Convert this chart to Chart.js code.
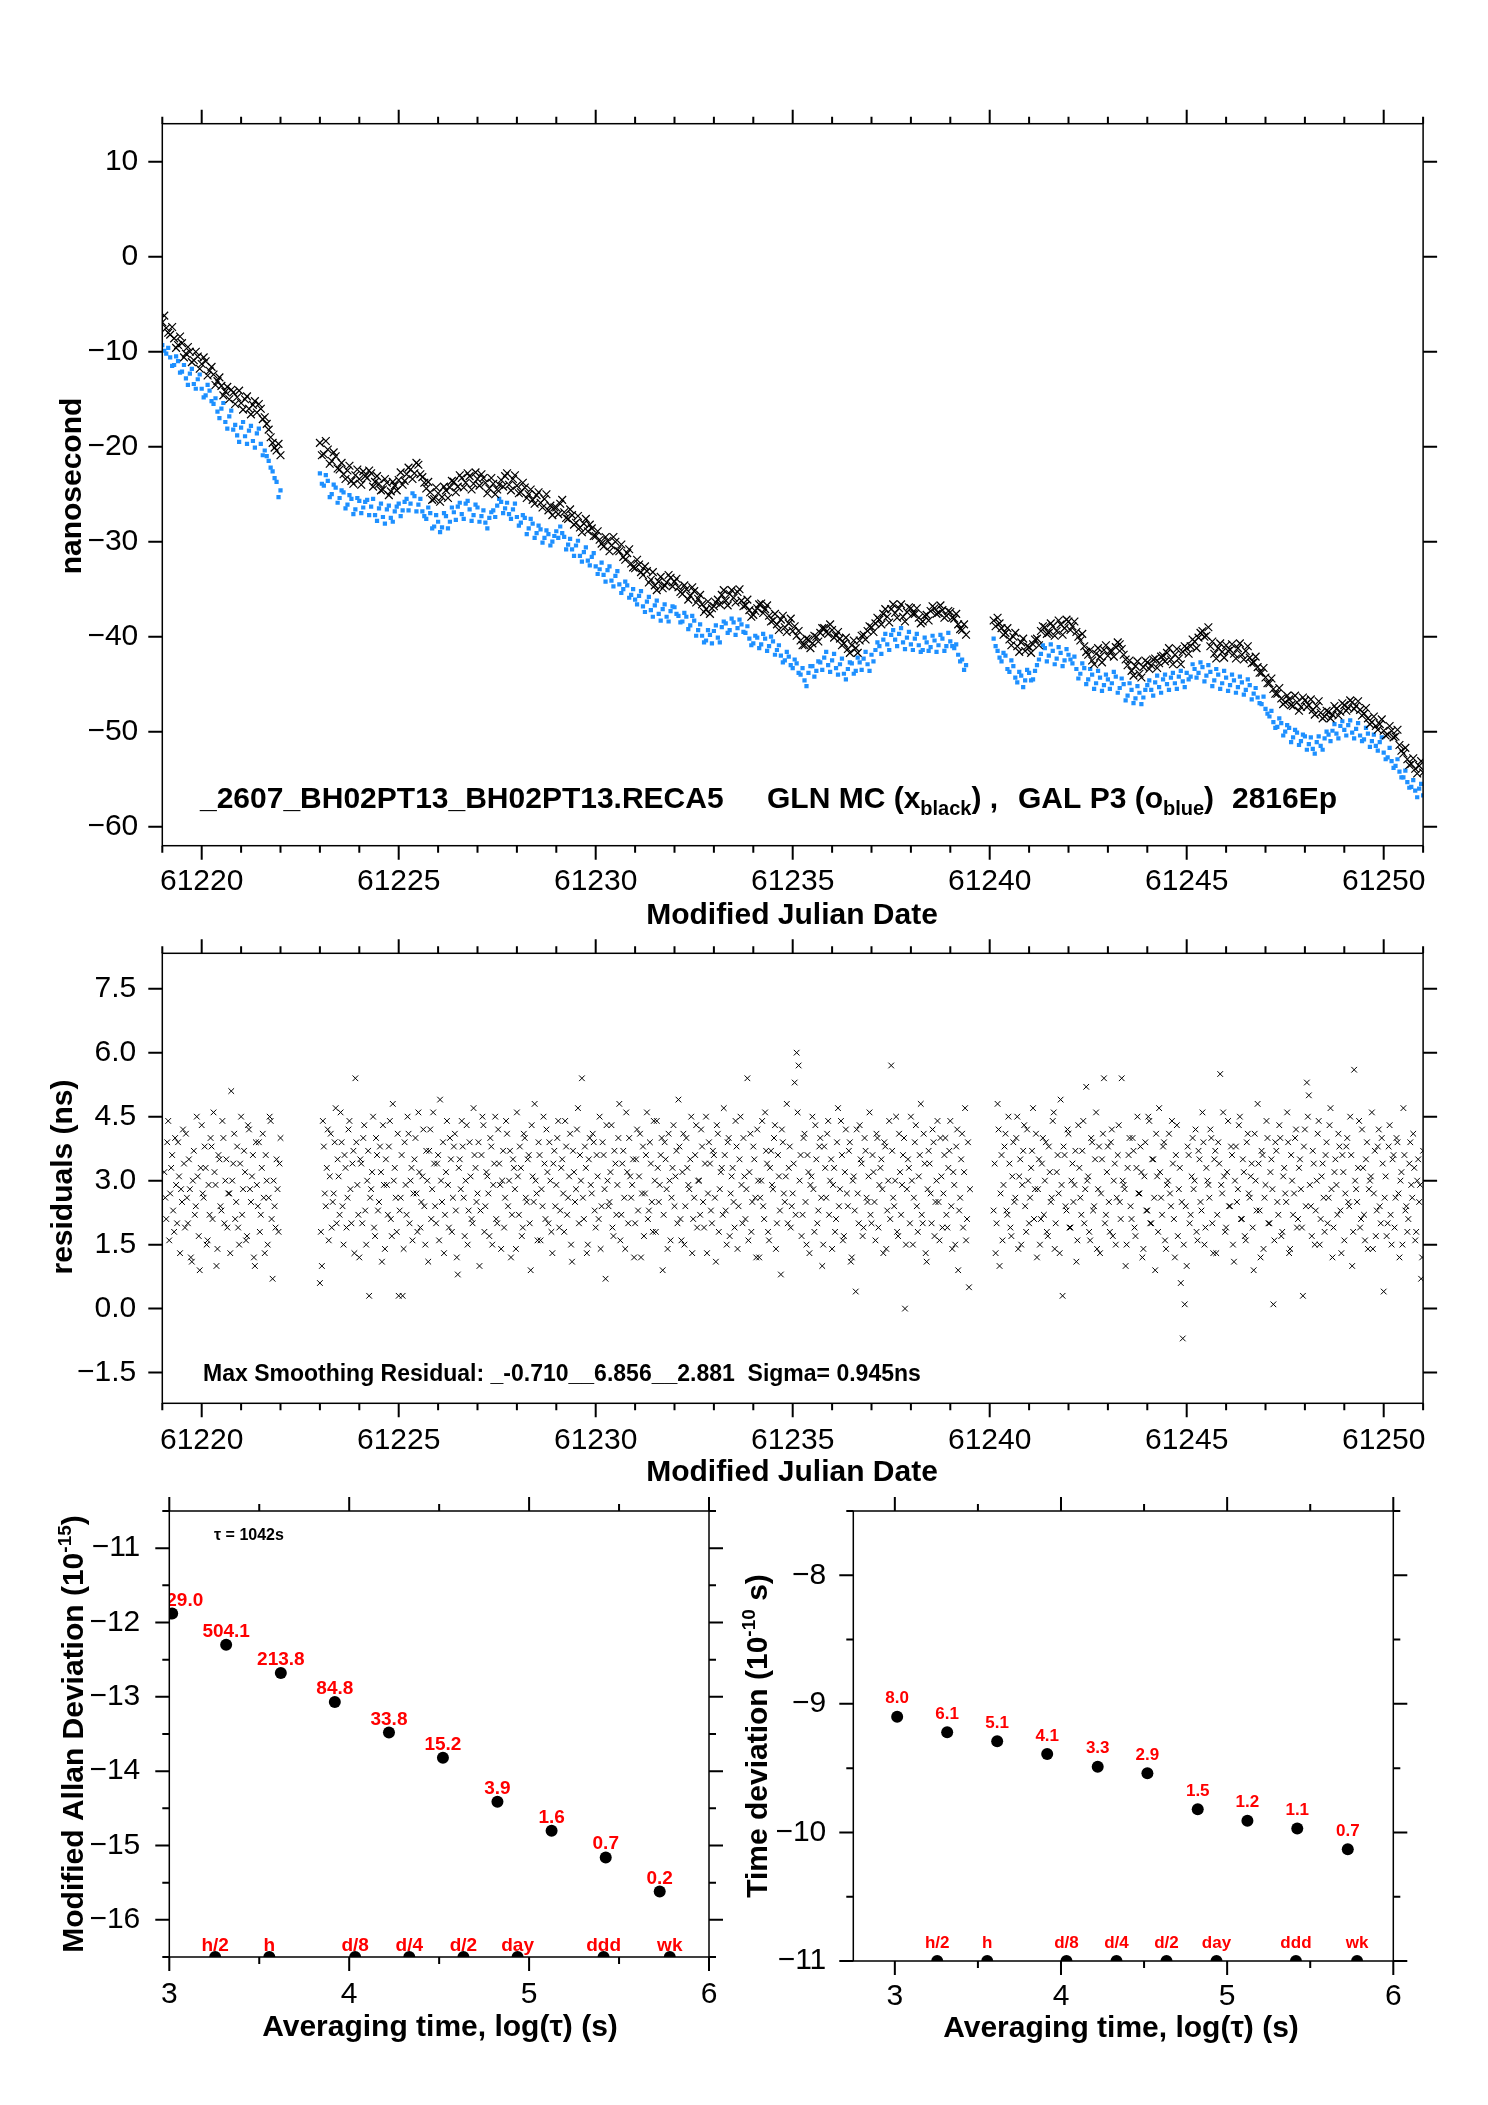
<!DOCTYPE html>
<html>
<head>
<meta charset="utf-8">
<script src="https://cdn.jsdelivr.net/npm/chart.js@4.4.1/dist/chart.umd.min.js"></script>
<style>
  html, body { margin: 0; padding: 0; background: #fff; }
  #page { position: relative; width: 1488px; height: 2105px; background: #fff; }
  canvas { position: absolute; left: 0; top: 0; }
</style>
</head>
<body>
<div id="page">
  <canvas id="phase" width="1488" height="2105"></canvas>
  <canvas id="resid" width="1488" height="2105"></canvas>
  <canvas id="mdev" width="1488" height="2105"></canvas>
  <canvas id="tdev" width="1488" height="2105"></canvas>
</div>
<script>
// ---- phase data (ns), one value every 0.1 day, three segments ----
const phaseStarts = [61219.0, 61223.0, 61240.1];
const phaseStep = 0.1;

// GLN MC (black x)
const glnSeg1 = [-6.9, -7.5, -8.2, -8.6, -9.3, -9.1, -10.2, -10.0, -10.9, -10.5,
  -11.3, -11.0, -12.0, -12.4, -13.1, -13.6, -14.2, -15.0, -14.3, -14.8,
  -15.4, -15.0, -16.0, -15.6, -16.4, -16.0, -16.9, -18.2, -19.6, -20.4, -20.9];
const glnSeg2 = [-19.6, -20.8, -20.3, -21.5, -21.0, -22.4, -22.9, -22.5, -23.6, -23.0,
  -23.4, -22.6, -23.3, -22.8, -23.7, -23.9, -24.5, -23.8, -24.7, -24.1,
  -23.5, -24.0, -22.9, -22.4, -22.8, -21.9, -23.2, -24.4, -24.8, -25.5,
  -24.9, -25.3, -24.6, -24.3, -23.7, -24.2, -23.3, -23.8, -23.1, -23.9,
  -23.4, -22.9, -23.8, -24.4, -23.9, -24.5, -23.5, -23.1, -24.0, -23.4,
  -24.1, -24.8, -24.3, -25.0, -25.6, -25.1, -25.9, -25.5, -26.7, -27.2,
  -26.4, -26.0, -26.9, -27.6, -27.2, -28.0, -28.5, -28.1, -28.9, -28.6,
  -29.4, -29.8, -30.5, -29.9, -30.4, -30.0, -31.0, -31.6, -31.2, -32.3,
  -32.8, -32.4, -33.5, -33.1, -34.0, -34.6, -34.2, -34.9, -34.3, -33.8,
  -34.2, -34.8, -35.5, -35.0, -35.7, -35.2, -36.0, -36.6, -37.1, -37.6,
  -36.8, -36.1, -35.6, -36.2, -35.5, -35.9, -35.3, -36.2, -36.7, -37.2,
  -37.7, -37.0, -36.5, -37.1, -37.8, -38.3, -38.7, -38.2, -39.0, -38.6,
  -39.4, -39.9, -40.4, -40.9, -40.3, -40.7, -40.0, -39.6, -39.1, -39.7,
  -39.3, -39.9, -40.2, -40.7, -41.3, -40.9, -41.2, -40.4, -39.8, -39.4,
  -39.0, -38.6, -38.2, -37.6, -37.9, -37.1, -37.5, -37.0, -37.9, -37.4,
  -37.0, -37.6, -38.0, -38.4, -37.7, -37.3, -37.0, -37.5, -37.2, -37.8,
  -37.4, -38.1, -38.7, -39.3, -39.8];
const glnSeg3 = [-38.3, -38.0, -39.1, -39.6, -40.3, -40.0, -41.0, -40.6, -41.5,
  -41.1, -40.8, -40.2, -39.4, -39.0, -39.6, -38.9, -39.4, -38.7, -39.1,
  -38.4, -38.9, -39.5, -40.4, -41.0, -41.9, -42.5, -41.8, -42.1, -41.4,
  -42.0, -41.5, -41.1, -40.8, -41.9, -43.0, -43.6, -43.1, -43.9, -43.2,
  -42.7, -43.0, -42.3, -42.8, -42.0, -41.7, -42.4, -41.9, -42.3, -41.6,
  -41.2, -41.0, -40.5, -40.1, -39.4, -39.9, -41.0, -41.8, -41.2, -41.6,
  -40.9, -41.4, -41.8, -41.2, -41.9, -41.5, -42.2, -42.7, -43.2, -43.8,
  -44.3, -44.9, -45.5, -46.0, -46.5, -46.9, -46.6, -47.3, -46.9, -47.4,
  -46.7, -47.2, -47.7, -47.3, -48.0, -48.4, -47.9, -48.2, -47.6, -47.9,
  -47.2, -47.5, -46.9, -47.3, -47.7, -48.1, -48.6, -49.0, -49.4, -49.2,
  -49.9, -50.3, -49.9, -50.5, -51.4, -52.3, -52.9, -53.4, -53.9, -53.6,
  -54.3];

// GAL P3 (blue)
const galSeg1 = [-9.3, -10.2, -10.6, -11.4, -11.0, -12.1, -12.8, -12.3, -13.4, -12.9,
  -13.9, -14.6, -14.1, -15.5, -16.3, -16.0, -17.4, -16.8, -18.2, -18.8,
  -18.0, -18.9, -18.3, -19.4, -18.6, -19.7, -20.4, -21.5, -22.6, -23.7, -24.6];
const galSeg2 = [-22.8, -24.1, -23.6, -25.0, -24.3, -25.4, -24.8, -26.1, -25.5, -26.6,
  -25.7, -26.4, -25.6, -26.3, -27.2, -26.5, -27.4, -26.6, -27.5, -26.8,
  -26.0, -26.7, -25.5, -26.0, -25.2, -26.1, -26.8, -27.6, -27.0, -28.4,
  -27.9, -28.5, -27.3, -27.9, -26.9, -26.3, -27.1, -26.0, -26.6, -27.2,
  -26.4, -27.3, -28.0, -27.5, -26.7, -26.2, -25.8, -26.5, -27.1, -26.6,
  -27.4, -28.0, -27.5, -28.6, -28.1, -29.1, -28.7, -29.6, -29.2, -30.0,
  -28.9, -28.4, -29.5, -30.3, -30.8, -30.4, -31.5, -31.1, -32.0, -31.6,
  -32.6, -32.9, -33.5, -33.0, -34.1, -33.6, -34.5, -35.0, -34.6, -35.6,
  -36.1, -35.7, -36.8, -36.3, -37.2, -36.7, -37.6, -37.1, -37.9, -37.3,
  -36.9, -37.8, -38.4, -37.9, -38.8, -38.3, -39.3, -39.9, -40.4, -39.8,
  -39.4, -40.1, -39.0, -38.6, -39.3, -38.5, -39.1, -38.7, -39.6, -40.2,
  -40.7, -40.1, -40.8, -40.2, -41.0, -40.5, -41.4, -42.0, -42.5, -42.1,
  -43.3, -42.8, -44.0, -44.6, -43.8, -43.1, -43.6, -42.7, -42.2, -43.0,
  -42.5, -43.3, -42.9, -43.9, -43.4, -42.8, -43.6, -42.7, -42.3, -42.9,
  -41.9, -41.4, -41.0, -40.3, -40.8, -39.8, -40.3, -39.7, -40.6, -40.1,
  -40.8, -40.2, -40.9, -41.4, -40.6, -41.1, -40.4, -40.9, -40.2, -41.0,
  -40.5, -41.2, -41.9, -42.4, -43.0];
const galSeg3 = [-40.2, -41.5, -42.6, -42.0, -43.7, -43.1, -44.8, -44.1, -44.6,
  -43.8, -44.5, -43.0, -41.8, -41.2, -42.0, -41.5, -42.3, -41.7, -42.5,
  -41.9, -42.8, -43.4, -43.9, -43.3, -44.5, -44.0, -44.9, -44.3, -45.1,
  -44.5, -44.9, -44.2, -45.4, -45.0, -46.2, -45.6, -46.5, -45.9, -46.4,
  -45.1, -45.6, -44.8, -45.3, -44.5, -45.0, -44.3, -44.9, -44.2, -44.7,
  -43.8, -44.2, -43.4, -43.8, -43.2, -44.1, -43.7, -44.6, -44.0, -44.9,
  -44.3, -45.1, -44.6, -45.3, -44.8, -45.6, -45.1, -46.0, -46.4, -47.1,
  -47.6, -48.4, -49.0, -49.5, -49.1, -50.0, -49.6, -50.6, -50.1, -51.0,
  -50.5, -51.3, -51.8, -51.1, -51.5, -50.7, -50.3, -49.9, -50.2, -49.4,
  -49.8, -49.3, -50.1, -49.7, -50.4, -50.8, -50.2, -51.0, -51.5, -51.1,
  -52.2, -52.7, -53.1, -53.6, -54.2, -54.8, -55.3, -55.8, -56.2, -56.0,
  -56.7];

// second pass of epochs, half a step later (61219.05, 61223.05, 61240.15 ...)
const phaseStartsB = [61219.05, 61223.05, 61240.15];
const glnSeg1b = [-6.2, -8.0, -7.4, -9.6, -8.4, -10.6, -9.5, -11.1, -10.0, -11.8,
  -10.6, -12.5, -11.6, -13.5, -12.7, -14.6, -13.7, -14.0, -15.5, -14.1,
  -16.1, -14.7, -16.6, -15.2, -15.5, -17.1, -17.6, -19.0, -20.1, -19.7];
const glnSeg2b = [-20.9, -19.4, -21.8, -20.6, -22.3, -21.7, -23.4, -22.0, -23.9, -22.4,
  -24.0, -23.1, -22.5, -24.2, -23.1, -24.6, -23.4, -25.1, -23.7, -24.6,
  -22.7, -23.6, -22.2, -23.4, -21.7, -22.9, -23.8, -23.7, -25.6, -24.3,
  -25.8, -24.2, -25.4, -23.6, -24.8, -23.0, -24.3, -22.8, -24.5, -22.7,
  -24.1, -23.3, -24.9, -23.3, -25.0, -24.0, -24.2, -22.8, -24.6, -23.0,
  -24.9, -23.8, -25.4, -24.5, -26.0, -24.8, -26.4, -25.0, -26.2, -26.4,
  -27.1, -25.6, -27.5, -26.6, -28.2, -27.3, -29.0, -27.6, -28.2, -29.4,
  -28.9, -30.2, -29.5, -31.0, -29.5, -30.9, -30.3, -31.9, -30.8, -32.7,
  -31.9, -33.2, -32.6, -34.3, -33.2, -35.1, -33.7, -34.6, -33.5, -34.7,
  -33.9, -35.3, -34.6, -36.1, -34.8, -36.4, -35.6, -37.4, -36.3, -37.0,
  -36.4, -36.6, -35.1, -36.7, -35.1, -36.4, -35.0, -36.8, -36.1, -37.9,
  -37.3, -36.6, -37.5, -36.7, -38.4, -37.6, -39.3, -37.8, -39.5, -38.1,
  -38.9, -39.4, -40.9, -40.2, -41.2, -39.9, -40.5, -39.1, -39.5, -38.7,
  -40.1, -39.5, -40.9, -40.1, -41.7, -40.4, -41.7, -39.9, -40.3, -38.9,
  -39.5, -38.0, -38.7, -37.1, -38.5, -36.6, -38.0, -36.6, -38.4, -36.9,
  -37.6, -37.0, -38.6, -37.8, -38.3, -36.8, -37.6, -36.7, -38.0, -37.3,
  -38.0, -37.6, -39.2, -38.7];
const glnSeg3b = [-38.9, -38.6, -39.8, -39.1, -40.9, -39.6, -41.6, -40.2, -41.0,
  -41.7, -40.3, -40.9, -38.9, -39.7, -38.6, -39.9, -38.3, -39.8, -38.2,
  -39.3, -38.4, -40.0, -39.7, -41.6, -41.4, -42.9, -41.2, -42.7, -40.9,
  -41.5, -42.1, -40.6, -41.3, -42.4, -42.5, -44.1, -42.6, -44.3, -42.5,
  -43.4, -42.4, -43.3, -42.1, -42.6, -41.2, -42.9, -41.3, -42.9, -41.0,
  -41.8, -40.3, -41.2, -39.6, -40.0, -39.0, -40.5, -42.3, -40.7, -42.2,
  -41.5, -40.8, -42.3, -40.7, -42.4, -41.0, -42.8, -42.1, -43.8, -43.3,
  -44.9, -44.4, -46.0, -45.4, -47.1, -46.2, -47.2, -46.2, -47.8, -46.4,
  -47.4, -46.6, -48.2, -46.8, -48.6, -47.8, -48.6, -47.3, -48.3, -47.0,
  -47.8, -46.7, -47.6, -46.8, -48.3, -47.5, -49.2, -48.4, -49.8, -48.7,
  -50.4, -49.4, -50.6, -49.8, -52.0, -51.7, -53.5, -52.8, -54.4, -53.1];
const galSeg1b = [-9.9, -9.6, -11.5, -10.5, -12.2, -11.4, -13.5, -11.8, -13.9, -12.4,
  -14.8, -13.5, -15.2, -14.9, -17.0, -15.4, -18.1, -16.2, -17.7, -19.5,
  -17.4, -19.7, -17.8, -20.1, -18.1, -20.9, -21.0, -22.2, -23.3, -25.3];
const galSeg2b = [-23.9, -23.0, -25.3, -24.0, -25.9, -24.6, -26.5, -25.1, -27.1, -25.4,
  -27.0, -25.8, -27.2, -25.5, -27.8, -26.0, -28.1, -26.2, -27.9, -26.3,
  -27.3, -25.8, -26.7, -24.9, -26.8, -25.5, -27.3, -26.4, -28.6, -27.2,
  -29.0, -27.0, -28.6, -26.4, -27.7, -25.9, -27.6, -25.7, -27.8, -26.1,
  -27.9, -26.7, -28.6, -26.9, -27.4, -25.5, -27.0, -25.9, -27.6, -26.0,
  -28.3, -27.2, -29.2, -27.6, -29.6, -28.3, -30.1, -28.8, -30.4, -29.4,
  -29.6, -29.1, -30.8, -29.7, -31.5, -29.9, -32.1, -30.6, -32.5, -31.2,
  -33.4, -32.2, -34.2, -32.6, -34.7, -33.1, -35.4, -34.2, -35.9, -35.0,
  -36.6, -35.2, -37.4, -35.8, -37.9, -36.2, -38.3, -36.6, -38.4, -36.8,
  -37.6, -38.5, -37.5, -39.2, -37.8, -39.9, -38.7, -40.6, -39.3, -40.7,
  -38.8, -40.6, -38.4, -39.6, -38.1, -39.8, -38.2, -39.5, -38.9, -40.9,
  -39.9, -41.2, -39.7, -41.5, -40.0, -41.9, -40.9, -42.7, -41.6, -43.0,
  -42.4, -43.8, -43.3, -45.2, -43.1, -44.2, -42.6, -43.5, -41.6, -43.7,
  -41.8, -44.0, -42.3, -44.5, -42.7, -43.9, -42.2, -43.5, -41.6, -43.6,
  -42.6, -40.6, -41.8, -39.7, -41.4, -39.3, -41.0, -39.1, -41.3, -39.5,
  -41.4, -39.7, -41.6, -40.1, -41.5, -39.9, -41.6, -39.8, -41.5, -39.6,
  -41.0, -40.8, -42.6, -43.5];
const galSeg3b = [-41.0, -42.2, -41.7, -43.4, -42.5, -44.3, -43.7, -45.3, -43.5,
  -44.6, -43.6, -42.4, -40.9, -42.6, -40.8, -42.9, -41.1, -43.1, -41.3,
  -42.4, -42.1, -44.4, -42.8, -45.0, -43.4, -45.5, -43.6, -45.7, -44.0,
  -45.5, -43.7, -45.9, -44.4, -46.7, -44.9, -47.0, -45.2, -47.1, -45.6,
  -44.6, -46.2, -44.1, -45.9, -44.0, -45.6, -43.8, -45.5, -43.6, -45.3,
  -44.5, -42.9, -44.3, -42.7, -44.7, -43.0, -45.2, -43.4, -45.5, -43.6,
  -45.7, -44.0, -45.9, -44.2, -46.1, -44.5, -46.6, -45.4, -47.0, -46.3,
  -48.1, -47.8, -49.6, -48.6, -50.4, -49.3, -51.1, -49.8, -51.4, -50.3,
  -51.9, -50.6, -52.3, -50.5, -51.9, -50.0, -51.0, -49.2, -50.7, -48.9,
  -50.4, -48.8, -50.7, -49.1, -51.0, -49.6, -51.6, -50.3, -52.0, -50.6,
  -52.9, -51.7, -53.8, -52.9, -54.8, -54.1, -55.9, -55.1, -56.9, -55.5];

// ---- smoothing residuals (ns), one value every 0.05 day ----
const residStarts = [61219.05, 61223.0, 61240.1];
const residStep = 0.05;
const residSeg1 = [3.2, 2.1, 4.4, 2.7, 3.6, 1.8, 2.9, 3.9, 1.3, 2.5,
  3.4, 4.1, 2.0, 2.8, 1.1, 3.7, 2.4, 3.1, 0.9, 4.3,
  2.6, 3.3, 1.6, 2.2, 3.8, 4.6, 2.9, 1.4, 3.5, 2.3,
  4.0, 3.0, 1.9, 2.7, 5.1, 3.4, 2.1, 3.8, 1.5, 4.5,
  2.8, 3.2, 1.7, 4.2, 2.5, 3.6, 1.0, 2.9, 3.9, 2.2,
  4.1, 1.3, 3.0, 2.6, 4.4, 0.7, 2.4, 3.5, 1.8, 4.0];
const residSeg2 = [0.6, 1.0, 3.8, 2.4, 4.2, 3.1, 1.9, 2.7, 4.7, 3.5, 2.2, 3.9, 1.5, 3.3, 2.6, 4.4, 2.0, 3.7, 5.4, 2.9,
  1.2, 3.4, 4.0, 2.3, 3.0, 0.3, 2.8, 4.5, 1.7, 3.6, 2.5, 3.2, 4.3, 1.4, 2.9, 3.8, 2.1, 4.8, 3.3, 1.8,
  0.3, 2.6, 0.3, 3.9, 2.2, 4.1, 3.0, 1.6, 3.5, 2.7, 4.6, 1.9, 3.1, 2.4, 3.7, 1.1, 4.2, 2.8, 3.4, 2.0,
  3.6, 4.9, 2.5, 1.3, 3.2, 2.9, 4.0, 1.8, 3.8, 2.3, 0.8, 3.5, 4.4, 2.6, 3.0, 1.5, 3.9, 2.1, 4.7, 3.3,
  2.7, 1.0, 3.6, 4.3, 2.4, 3.1, 1.7, 3.8, 2.9, 4.5, 2.0, 3.4, 1.4, 3.7, 2.6, 4.1, 3.0, 1.2, 3.5, 2.8,
  4.6, 2.2, 3.3, 1.9, 4.0, 2.5, 3.6, 0.9, 3.1, 4.8, 2.7, 3.9, 1.6, 2.4, 3.4, 4.2, 2.0, 3.0, 1.3, 3.7,
  2.9, 4.4, 2.3, 3.5, 1.8, 3.8, 2.6, 4.1, 1.1, 3.2, 2.8, 4.7, 3.6, 5.4, 2.1, 3.3, 1.5, 4.0, 2.7, 3.9,
  1.9, 3.1, 4.5, 2.4, 3.6, 0.7, 3.0, 2.5, 4.3, 1.7, 3.4, 2.9, 4.8, 2.2, 3.7, 1.4, 3.2, 4.0, 2.6, 3.5,
  2.0, 4.2, 3.1, 1.2, 3.8, 2.7, 4.6, 2.3, 3.4, 1.8, 3.0, 4.4, 2.5, 3.6, 0.9, 3.9, 2.8, 4.1, 1.6, 3.3,
  2.4, 3.7, 4.9, 2.1, 3.2, 1.5, 4.0, 2.9, 3.5, 1.3, 2.6, 4.3, 3.0, 2.2, 3.8, 1.9, 4.5, 2.7, 3.4, 2.0,
  3.6, 1.1, 4.1, 2.8, 3.3, 4.7, 2.3, 3.9, 1.7, 3.1, 2.5, 4.4, 1.4, 3.5, 2.9, 4.0, 2.1, 5.4, 3.2, 1.8,
  3.8, 2.6, 4.2, 1.2, 3.0, 2.4, 4.6, 3.4, 1.6, 3.7, 2.8, 4.3, 2.0, 3.1, 0.8, 3.9, 2.5, 4.8, 3.3, 1.9,
  2.7, 5.3, 6.0, 5.7, 3.6, 2.2, 4.1, 1.5, 3.2, 2.9, 4.5, 1.8, 3.5, 2.3, 4.0, 1.0, 3.8, 2.6, 4.4, 3.0,
  1.4, 3.3, 2.1, 4.7, 2.8, 3.6, 1.7, 4.2, 2.4, 3.9, 1.2, 3.1, 0.4, 2.7, 4.3, 3.4, 1.9, 3.7, 2.5, 4.6,
  2.0, 3.2, 1.6, 4.0, 2.9, 3.5, 1.3, 3.8, 2.3, 4.4, 5.7, 2.6, 3.0, 1.8, 4.1, 2.2, 3.6, 0.0, 2.8, 3.3,
  4.5, 1.5, 3.9, 2.4, 3.1, 4.8, 2.0, 3.4, 1.1, 3.7, 2.7, 4.2, 1.7, 3.0, 2.5, 4.0, 1.9, 3.6, 2.2, 3.3,
  4.4, 1.4, 2.9, 3.8, 0.9, 2.6, 4.1, 3.2, 1.6, 3.9, 2.8];
const residSeg3 = [2.3, 1.3, 4.8, 1.0, 3.6, 2.9, 4.1, 2.2, 3.4, 1.7, 3.9, 2.6, 4.5, 3.1, 1.5, 3.7, 2.4, 4.2, 2.0, 3.3,
  4.7, 2.8, 1.2, 3.5, 2.1, 4.0, 3.0, 1.8, 3.8, 2.5, 4.4, 1.4, 3.2, 2.7, 4.9, 0.3, 3.6, 2.3, 4.1, 1.9,
  3.4, 2.9, 1.1, 4.3, 2.6, 3.7, 2.0, 5.2, 3.1, 1.6, 3.9, 2.4, 4.6, 2.8, 1.3, 3.5, 5.4, 2.2, 3.8, 1.8,
  4.2, 3.0, 1.5, 3.6, 2.5, 5.4, 2.9, 1.0, 3.3, 4.0, 2.1, 3.7, 1.7, 4.5, 2.7, 3.2, 1.4, 3.9, 2.3, 4.4,
  2.0, 3.5, 0.9, 3.1, 4.7, 2.6, 3.8, 1.6, 2.9, 4.1, 2.4, 3.4, 1.2, 4.3, 2.8, 0.6, -0.7, 0.1, 1.0, 3.6,
  2.2, 4.0, 3.0, 1.8, 3.7, 2.5, 4.6, 1.5, 3.3, 2.9, 4.2, 2.0, 3.5, 1.3, 3.9, 5.5, 2.7, 3.1, 1.9, 4.4,
  2.4, 3.6, 1.1, 3.8, 2.8, 4.5, 2.1, 3.2, 1.6, 4.1, 2.6, 3.4, 0.9, 3.0, 4.8, 2.3, 3.7, 1.4, 2.9, 4.0,
  2.0, 3.5, 0.1, 3.9, 2.5, 4.3, 1.7, 3.1, 2.7, 4.6, 1.3, 3.6, 2.2, 4.0, 1.9, 3.3, 2.8, 0.3, 4.2, 5.3,
  5.0, 2.4, 3.7, 1.5, 3.0, 4.4, 2.1, 3.4, 1.8, 3.9, 2.6, 4.7, 1.2, 3.2, 2.9, 4.1, 2.3, 3.6, 1.6, 3.8,
  2.5, 4.5, 1.0, 5.6, 2.8, 3.3, 1.9, 4.2, 2.2, 3.5, 1.4, 3.0, 4.6, 2.7, 1.7, 3.8, 2.4, 4.0, 0.4, 3.1,
  2.0, 4.3, 1.5, 3.6, 2.6, 3.9, 1.2, 3.2, 4.7, 2.3, 1.8, 3.4, 2.9, 4.1, 1.6, 3.0, 2.5, 0.7, 3.7];

// second pass of residual epochs, offset by 0.025 day
const residStartsB = [61219.075, 61223.025, 61240.125];
const residSeg1b = [2.6, 3.9, 1.6, 3.3, 2.3, 4.0, 2.0, 3.1, 2.8, 4.2,
  1.9, 2.6, 3.5, 1.2, 3.0, 2.2, 4.5, 1.7, 3.3, 2.7,
  3.8, 1.5, 2.9, 4.0, 2.1, 3.2, 1.0, 3.6, 2.4, 4.4,
  2.0, 3.5, 2.7, 1.3, 3.0, 4.1, 2.5, 1.9, 3.4, 2.2,
  3.7, 1.6, 4.3, 2.8, 3.1, 1.2, 3.9, 2.4, 1.8, 3.3,
  2.6, 3.6, 1.5, 4.5, 2.1, 3.0, 1.9, 2.8, 3.4];
const residSeg2b = [1.8, 4.4, 2.7, 3.3, 1.6, 4.1, 2.5, 3.9, 2.0, 3.1, 4.6, 2.4, 3.6, 1.9, 4.2, 2.8, 3.4, 1.3, 3.9, 2.2,
  3.5, 2.0, 4.3, 1.5, 3.7, 2.6, 3.2, 1.9, 4.0, 2.3, 3.8, 1.1, 2.9, 3.5, 2.2, 4.4, 1.7, 3.0, 2.6, 4.1,
  2.3, 3.6, 1.4, 2.9, 4.5, 2.0, 3.3, 2.7, 4.0, 1.8, 3.2, 2.5, 4.2, 1.5, 3.0, 3.7, 2.1, 4.6, 2.4, 3.4,
  1.6, 3.0, 3.9, 2.2, 4.4, 1.9, 3.5, 2.6, 4.1, 1.2, 3.3, 2.8, 3.8, 1.7, 4.3, 2.3, 3.1, 2.0, 3.6, 2.5,
  3.9, 2.3, 4.5, 1.8, 3.2, 2.7, 4.0, 1.5, 3.4, 2.1, 4.2, 2.9, 3.0, 1.9, 4.4, 2.4, 3.7, 2.2, 3.3, 1.4,
  3.1, 3.8, 1.7, 4.1, 2.6, 3.5, 2.0, 4.3, 2.5, 3.0, 1.6, 3.6, 2.8, 4.5, 2.1, 3.2, 3.9, 1.8, 3.4, 2.4,
  4.0, 1.9, 3.3, 2.7, 4.4, 2.2, 3.1, 1.5, 3.7, 2.5, 4.2, 2.0, 3.0, 2.6, 3.8, 1.3, 3.5, 2.9, 4.1, 2.3,
  3.6, 2.1, 1.4, 3.9, 2.8, 4.3, 2.4, 3.2, 1.9, 3.7, 2.2, 4.0, 1.6, 3.4, 2.6, 4.6, 2.0, 3.1, 2.9, 1.2,
  3.5, 2.3, 4.1, 2.7, 1.7, 3.6, 2.1, 3.9, 2.5, 4.4, 1.8, 3.3, 2.9, 4.0, 2.2, 3.5, 1.4, 3.0, 2.6, 4.3,
  3.1, 2.0, 3.8, 1.6, 4.1, 2.4, 3.3, 2.8, 4.5, 2.1, 3.6, 1.9, 3.0, 4.2, 2.5, 3.4, 1.3, 3.9, 2.3, 3.7,
  2.6, 4.3, 1.8, 3.2, 2.2, 3.6, 1.5, 4.0, 2.7, 3.3, 1.9, 3.8, 2.4, 4.5, 2.0, 3.1, 2.8, 1.6, 4.1, 2.5,
  3.5, 1.2, 3.0, 2.6, 4.4, 2.1, 3.7, 1.8, 3.3, 2.9, 4.0, 1.4, 3.6, 2.3, 4.2, 2.7, 3.1, 2.0, 3.8, 2.4,
  3.4, 2.2, 4.6, 3.0, 1.7, 4.0, 2.5, 3.6, 1.3, 3.1, 2.8, 4.3, 2.0, 3.8, 2.6, 1.5, 3.3, 4.1, 2.2, 3.5,
  2.9, 1.8, 3.9, 2.4, 4.4, 1.6, 3.2, 2.7, 3.7, 1.1, 3.0, 2.3, 4.2, 2.0, 3.5, 1.7, 4.0, 2.6, 3.1, 2.2,
  3.6, 2.5, 4.1, 1.9, 3.3, 2.8, 3.9, 1.4, 3.0, 2.1, 3.7, 2.4, 4.5, 1.7, 3.2, 2.9, 4.0, 1.5, 3.5, 2.0,
  3.0, 2.6, 4.3, 1.8, 3.6, 2.2, 4.1, 1.3, 2.8, 3.4, 2.0, 3.9, 2.5, 4.4, 1.6, 3.1, 2.7, 4.0, 1.9, 3.7,
  2.4, 3.2, 1.5, 4.2, 2.3, 3.5, 1.9, 4.7, 2.1, 0.5];
const residSeg3b = [3.4, 2.0, 4.2, 2.7, 1.6, 3.8, 2.3, 4.5, 1.9, 3.1, 2.5, 4.0, 1.4, 3.5, 2.9, 4.3, 1.8, 3.0, 2.6, 3.7,
  2.1, 4.1, 2.8, 1.5, 3.4, 2.2, 3.9, 1.7, 3.2, 2.6, 4.6, 2.0, 3.6, 1.3, 2.9, 3.8, 2.4, 4.2, 1.9, 3.0,
  2.5, 3.7, 1.6, 3.3, 2.2, 4.4, 2.8, 3.0, 1.8, 4.0, 2.3, 3.5, 1.4, 3.8, 2.7, 4.1, 2.0, 3.2, 2.5, 3.9,
  1.7, 3.4, 2.6, 4.3, 2.1, 3.0, 2.8, 1.5, 3.6, 2.4, 4.0, 1.9, 3.3, 2.7, 3.8, 1.2, 3.1, 2.3, 4.5, 2.0,
  3.5, 2.6, 4.1, 1.8, 3.2, 2.2, 3.9, 1.4, 3.0, 2.7, 4.4, 2.1, 3.6, 1.7, 3.3, 2.5, 1.5, 2.4, 3.8, 2.0,
  3.1, 2.8, 4.2, 1.6, 3.5, 2.3, 3.9, 1.9, 3.0, 2.6, 4.0, 1.3, 3.7, 2.2, 3.4, 2.9, 4.6, 1.8, 3.2, 2.4,
  3.8, 1.5, 3.0, 2.5, 4.3, 2.1, 3.5, 1.7, 3.9, 2.7, 3.1, 1.9, 4.1, 2.3, 3.4, 1.2, 3.6, 2.6, 4.4, 2.0,
  3.2, 2.8, 1.6, 3.7, 2.2, 4.0, 1.8, 3.3, 2.5, 3.9, 1.4, 3.0, 2.7, 4.2, 2.1, 3.5, 1.9, 3.8, 2.4, 4.5,
  2.9, 1.7, 3.4, 2.3, 4.1, 1.5, 3.1, 2.6, 3.6, 2.0, 4.3, 2.8, 1.9, 3.5, 2.2, 3.8, 1.3, 3.2, 2.7, 4.0,
  2.4, 3.6, 1.8, 3.0, 2.5, 4.4, 2.1, 3.3, 1.6, 3.9, 2.8, 3.1, 1.4, 3.7, 2.3, 4.2, 2.0, 3.4, 2.6, 1.7,
  3.8, 2.2, 3.5, 1.9, 4.0, 2.7, 3.0, 1.5, 3.6, 2.4, 2.1, 3.9, 2.6, 3.3, 1.8, 3.5, 2.9, 1.2];

// ---- stability: log10(tau) and log10 of the deviation ----
const mdevLogTau = [3.016, 3.316, 3.620, 3.920, 4.221, 4.521, 4.824, 5.125, 5.426, 5.726];
const mdevLogVal = [-11.88, -12.30, -12.68, -13.07, -13.48, -13.82, -14.41, -14.80, -15.16, -15.62];
const mdevLabels = ['29.0', '504.1', '213.8', '84.8', '33.8', '15.2', '3.9', '1.6', '0.7', '0.2'];

const tdevLogTau = [3.014, 3.315, 3.616, 3.917, 4.221, 4.520, 4.823, 5.122, 5.422, 5.726];
const tdevLogVal = [-9.10, -9.22, -9.29, -9.39, -9.49, -9.54, -9.82, -9.91, -9.97, -10.13];
const tdevLabels = ['8.0', '6.1', '5.1', '4.1', '3.3', '2.9', '1.5', '1.2', '1.1', '0.7'];

// reference averaging times: h/2, h, d/8, d/4, d/2, day, 3 days, week
const markLogTau = [3.255, 3.556, 4.033, 4.334, 4.635, 4.936, 5.414, 5.782];
const markLabels = ['h/2', 'h', 'd/8', 'd/4', 'd/2', 'day', 'ddd', 'wk'];

const mjdTicks = [61220, 61225, 61230, 61235, 61240, 61245, 61250];
const phaseTicks = [-60, -50, -40, -30, -20, -10, 0, 10];
const residTicks = [-1.5, 0.0, 1.5, 3.0, 4.5, 6.0, 7.5];
const mdevTicks = [-16, -15, -14, -13, -12, -11];
const tdevTicks = [-11, -10, -9, -8];
const tauTicks = [3, 4, 5, 6];

// ---------------------------------------------------------------
const FONT = '"Liberation Sans", Arial, Helvetica, sans-serif';
const B = s => 'bold ' + s + 'px ' + FONT;
const minus = v => (v < 0 ? '\u2212' + Math.abs(v) : String(v));

function segPoints(starts, step, segs) {
  const pts = [];
  segs.forEach((seg, k) => {
    seg.forEach((v, i) => pts.push({ x: +(starts[k] + i * step).toFixed(3), y: v }));
  });
  return pts;
}

function range(a, b, step) {
  const out = [];
  for (let v = a; v <= b + 1e-9; v += step) out.push(+v.toFixed(3));
  return out;
}

function drawRich(ctx, item) {
  ctx.save();
  ctx.translate(item.x, item.y);
  if (item.rot) ctx.rotate(item.rot);
  ctx.fillStyle = item.color || '#000';
  ctx.textBaseline = 'alphabetic';
  ctx.textAlign = 'left';
  let w = 0;
  item.parts.forEach(p => { ctx.font = p.font; w += ctx.measureText(p.t).width; });
  let cx = item.align === 'center' ? -w / 2 : 0;
  item.parts.forEach(p => {
    ctx.font = p.font;
    ctx.fillText(p.t, cx, p.dy || 0);
    cx += ctx.measureText(p.t).width;
  });
  ctx.restore();
}

// frame box, outward ticks on four sides, text and point labels
const framePlugin = {
  id: 'frame',
  afterDatasetsDraw(chart, args, opts) {
    const { ctx, chartArea: a } = chart;
    (opts.pointLabels || []).forEach(spec => {
      const meta = chart.getDatasetMeta(spec.ds);
      ctx.save();
      ctx.beginPath();
      ctx.rect(a.left, a.top, a.right - a.left, a.bottom - a.top);
      ctx.clip();
      ctx.font = spec.font;
      ctx.fillStyle = '#ff0000';
      ctx.textAlign = 'center';
      ctx.textBaseline = 'alphabetic';
      meta.data.forEach((el, i) => {
        const txt = spec.labels[i];
        const w = ctx.measureText(txt).width;
        const x = Math.max(el.x, a.left + w / 2 - 3);
        const y = spec.fromBottom ? a.bottom - spec.dy : el.y - spec.dy;
        ctx.fillText(txt, x, y);
      });
      ctx.restore();
    });
  },
  afterDraw(chart, args, opts) {
    const { ctx, chartArea: a, scales } = chart;
    const sx = scales.x, sy = scales.y;
    ctx.save();
    ctx.strokeStyle = '#000';
    ctx.lineWidth = 1.5;
    ctx.strokeRect(a.left, a.top, a.right - a.left, a.bottom - a.top);
    ctx.lineWidth = 2;
    ctx.beginPath();
    const xt = (vals, len) => vals.forEach(v => {
      const p = sx.getPixelForValue(v);
      ctx.moveTo(p, a.bottom); ctx.lineTo(p, a.bottom + len);
      ctx.moveTo(p, a.top); ctx.lineTo(p, a.top - len);
    });
    const yt = (vals, len) => vals.forEach(v => {
      const p = sy.getPixelForValue(v);
      ctx.moveTo(a.left, p); ctx.lineTo(a.left - len, p);
      ctx.moveTo(a.right, p); ctx.lineTo(a.right + len, p);
    });
    xt(opts.xMajor || [], 14);
    xt(opts.xMinor || [], 7);
    yt(opts.yMajor || [], 14);
    yt(opts.yMinor || [], 7);
    ctx.stroke();
    ctx.restore();
    (opts.texts || []).forEach(t => drawRich(ctx, t));
  }
};
Chart.register(framePlugin);

function makeOptions(box, xr, yr, xTicks, yTicks, fmtX, fmtY, pad, frame) {
  const tickFont = { family: FONT, size: 30 };
  return {
    responsive: false,
    animation: false,
    devicePixelRatio: 1,
    events: [],
    layout: { padding: { left: 0, top: box.top, right: 1488 - box.right, bottom: 2105 - box.bottom - 60 } },
    plugins: { legend: { display: false }, tooltip: { enabled: false }, title: { display: false }, frame: frame },
    scales: {
      x: {
        type: 'linear', min: xr[0], max: xr[1],
        afterFit: s => { s.height = 60; },
        afterBuildTicks: s => { s.ticks = xTicks.map(v => ({ value: v })); },
        grid: { display: false, drawTicks: false },
        border: { display: false },
        ticks: { autoSkip: false, maxRotation: 0, padding: pad.x, color: '#000', font: tickFont, callback: fmtX }
      },
      y: {
        type: 'linear', min: yr[0], max: yr[1],
        afterFit: s => { s.width = box.left; },
        afterBuildTicks: s => { s.ticks = yTicks.map(v => ({ value: v })); },
        grid: { display: false, drawTicks: false },
        border: { display: false },
        ticks: { autoSkip: false, padding: pad.y, color: '#000', font: tickFont, callback: fmtY }
      }
    }
  };
}

const dayMinor = range(61219, 61251, 1).filter(v => !mjdTicks.includes(v));
const crossStyle = { pointStyle: 'crossRot', borderColor: '#000', backgroundColor: 'rgba(0,0,0,0)' };
const blueStyle = { pointStyle: 'rect', radius: 3, borderWidth: 0, backgroundColor: '#1e90ff' };

// ---- top: phase ----
new Chart(document.getElementById('phase'), {
  type: 'scatter',
  data: {
    datasets: [{
      label: 'GLN MC',
      data: segPoints(phaseStarts, phaseStep, [glnSeg1, glnSeg2, glnSeg3])
        .concat(segPoints(phaseStartsB, phaseStep, [glnSeg1b, glnSeg2b, glnSeg3b])),
      radius: 5.5, borderWidth: 1.2, ...crossStyle
    }, {
      label: 'GAL P3',
      data: segPoints(phaseStarts, phaseStep, [galSeg1, galSeg2, galSeg3])
        .concat(segPoints(phaseStartsB, phaseStep, [galSeg1b, galSeg2b, galSeg3b])),
      ...blueStyle
    }]
  },
  options: makeOptions({ left: 162.3, right: 1423.1, top: 123.7, bottom: 845.7 },
    [61219, 61251], [-62, 14], mjdTicks, phaseTicks, v => String(v), v => minus(v), { x: 18, y: 24 },
    {
      xMajor: mjdTicks, xMinor: dayMinor, yMajor: phaseTicks,
      texts: [
        { x: 200, y: 808, parts: [{ t: '_2607_BH02PT13_BH02PT13.RECA5', font: B(30) }] },
        { x: 767, y: 808, parts: [{ t: 'GLN MC (x', font: B(30) }, { t: 'black', font: B(20), dy: 7 }, { t: ') ,', font: B(30) }] },
        { x: 1018, y: 808, parts: [{ t: 'GAL P3 (o', font: B(30) }, { t: 'blue', font: B(20), dy: 7 }, { t: ')', font: B(30) }] },
        { x: 1232, y: 808, parts: [{ t: '2816Ep', font: B(30) }] },
        { x: 792, y: 923.5, align: 'center', parts: [{ t: 'Modified Julian Date', font: B(30) }] },
        { x: 80.5, y: 486, rot: -Math.PI / 2, align: 'center', parts: [{ t: 'nanosecond', font: B(30) }] }
      ]
    })
});

// ---- middle: residuals ----
new Chart(document.getElementById('resid'), {
  type: 'scatter',
  data: {
    datasets: [{
      label: 'residuals',
      data: segPoints(residStarts, residStep, [residSeg1, residSeg2, residSeg3])
        .concat(segPoints(residStartsB, residStep, [residSeg1b, residSeg2b, residSeg3b])),
      radius: 4, borderWidth: 1, ...crossStyle
    }]
  },
  options: makeOptions({ left: 162.3, right: 1423.1, top: 953.3, bottom: 1403.3 },
    [61219, 61251], [-2.22, 8.33], mjdTicks, residTicks, v => String(v), v => (v < 0 ? '\u2212' + Math.abs(v).toFixed(1) : v.toFixed(1)), { x: 19, y: 26 },
    {
      xMajor: mjdTicks, xMinor: dayMinor, yMajor: residTicks,
      texts: [
        { x: 203, y: 1381, parts: [{ t: 'Max Smoothing Residual: _-0.710__6.856__2.881  Sigma= 0.945ns', font: B(23) }] },
        { x: 792, y: 1481, align: 'center', parts: [{ t: 'Modified Julian Date', font: B(30) }] },
        { x: 72, y: 1177, rot: -Math.PI / 2, align: 'center', parts: [{ t: 'residuals (ns)', font: B(30) }] }
      ]
    })
});

// ---- bottom left: modified Allan deviation ----
new Chart(document.getElementById('mdev'), {
  type: 'scatter',
  data: {
    datasets: [{
      label: 'marks',
      data: markLogTau.map(t => ({ x: t, y: -16.5 })),
      pointStyle: 'circle', radius: 6, borderWidth: 0, backgroundColor: '#000', clip: 0
    }, {
      label: 'MDEV',
      data: mdevLogTau.map((t, i) => ({ x: t, y: mdevLogVal[i] })),
      pointStyle: 'circle', radius: 6, borderWidth: 0, backgroundColor: '#000'
    }]
  },
  options: makeOptions({ left: 169.3, right: 709, top: 1511, bottom: 1957 },
    [3, 6], [-16.5, -10.5], tauTicks, mdevTicks, v => String(v), v => minus(v), { x: 20, y: 29 },
    {
      xMajor: tauTicks, xMinor: [3.5, 4.5, 5.5], yMajor: mdevTicks, yMinor: range(-16.5, -10.5, 1),
      pointLabels: [
        { ds: 1, labels: mdevLabels, font: B(19), dy: 8 },
        { ds: 0, labels: markLabels, font: B(19), dy: 6, fromBottom: true }
      ],
      texts: [
        { x: 214, y: 1540, parts: [{ t: '\u03c4 = 1042s', font: B(16) }] },
        { x: 440, y: 2036, align: 'center', parts: [{ t: 'Averaging time, log(\u03c4) (s)', font: B(30) }] },
        { x: 83, y: 1734, rot: -Math.PI / 2, align: 'center', parts: [
          { t: 'Modified Allan Deviation (10', font: B(30) }, { t: '-15', font: B(19), dy: -12 }, { t: ')', font: B(30) }] }
      ]
    })
});

// ---- bottom right: time deviation ----
new Chart(document.getElementById('tdev'), {
  type: 'scatter',
  data: {
    datasets: [{
      label: 'marks',
      data: markLogTau.map(t => ({ x: t, y: -11 })),
      pointStyle: 'circle', radius: 6, borderWidth: 0, backgroundColor: '#000', clip: 0
    }, {
      label: 'TDEV',
      data: tdevLogTau.map((t, i) => ({ x: t, y: tdevLogVal[i] })),
      pointStyle: 'circle', radius: 6, borderWidth: 0, backgroundColor: '#000'
    }]
  },
  options: makeOptions({ left: 853.3, right: 1393.3, top: 1511, bottom: 1961 },
    [2.75, 6], [-11, -7.5], tauTicks, tdevTicks, v => String(v), v => minus(v), { x: 18, y: 27 },
    {
      xMajor: tauTicks, xMinor: [3.5, 4.5, 5.5], yMajor: tdevTicks, yMinor: [-10.5, -9.5, -8.5, -7.5],
      pointLabels: [
        { ds: 1, labels: tdevLabels, font: B(17), dy: 13.5 },
        { ds: 0, labels: markLabels, font: B(17), dy: 13, fromBottom: true }
      ],
      texts: [
        { x: 1121, y: 2037, align: 'center', parts: [{ t: 'Averaging time, log(\u03c4) (s)', font: B(30) }] },
        { x: 767, y: 1736, rot: -Math.PI / 2, align: 'center', parts: [
          { t: 'Time deviation (10', font: B(30) }, { t: '-10', font: B(19), dy: -12 }, { t: ' s)', font: B(30) }] }
      ]
    })
});
</script>
</body>
</html>
